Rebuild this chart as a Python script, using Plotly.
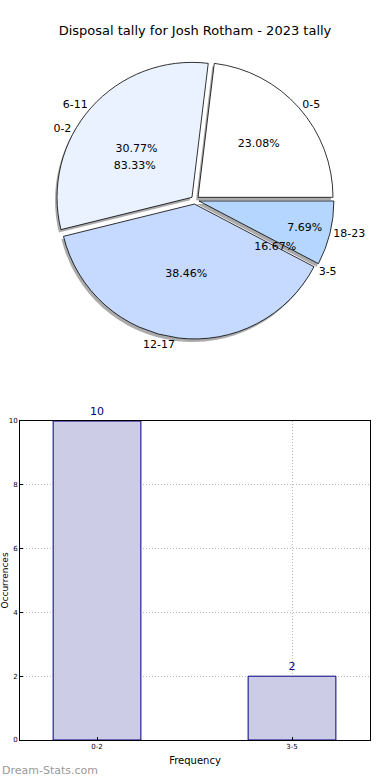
import plotly.graph_objects as go

# Data
pie_labels = ["0-5", "6-11", "12-17", "18-23"]
pie_values = [3, 4, 5, 1]
pie_colors = ["#ffffff", "#eaf1ff", "#c6d9ff", "#b5d6ff"]

freq_labels = ["0-2", "3-5"]
freq_values = [10, 2]

title_text = "Disposal tally for Josh Rotham - 2023 tally"

W, H = 390, 780
FONT = "DejaVu Sans"

def py(px):
    return 1 - px / H

def px_x(px):
    return px / W

def start_at_east(values):
    # matplotlib style: first wedge begins at 3 o'clock, going counterclockwise
    return 90 - 360.0 * values[0] / sum(values)

rot_main = start_at_east(pie_values)
rot_freq = start_at_east(freq_values)

pie_dom = dict(x=[0, 1], y=[py(339), py(61)])
shadow_dom = dict(x=[0, px_x(386)], y=[py(342), py(64)])
pull = [0.03] * 4

fig = go.Figure()

# shadow
fig.add_trace(go.Pie(
    labels=pie_labels, values=pie_values, domain=shadow_dom, sort=False,
    direction="counterclockwise", rotation=rot_main, pull=pull,
    marker=dict(colors=["#888888"] * 4, line=dict(color="#888888", width=0)),
    textinfo="label", hoverinfo="skip", showlegend=False, opacity=0.7, automargin=False,
    textposition="outside", outsidetextfont=dict(family=FONT, size=11, color="rgba(0,0,0,0)"),
))

# main pie with percents inside
fig.add_trace(go.Pie(
    labels=pie_labels, values=pie_values, domain=pie_dom, sort=False,
    direction="counterclockwise", rotation=rot_main, pull=pull,
    marker=dict(colors=pie_colors, line=dict(color="#000000", width=0.8)),
    textinfo="percent", texttemplate="%{percent:.2%}", textposition="inside",
    insidetextorientation="horizontal", automargin=False,
    textfont=dict(family=FONT, size=11, color="#000000"),
    showlegend=False,
))

# main pie labels outside
fig.add_trace(go.Pie(
    labels=pie_labels, values=pie_values, domain=pie_dom, sort=False,
    direction="counterclockwise", rotation=rot_main, pull=pull,
    marker=dict(colors=["rgba(0,0,0,0)"] * 4, line=dict(width=0)),
    textinfo="label", textposition="outside", automargin=False,
    outsidetextfont=dict(family=FONT, size=11, color="#000000"),
    showlegend=False, hoverinfo="skip",
))

# second pie (frequency) percents and labels
fig.add_trace(go.Pie(
    labels=freq_labels, values=freq_values, domain=pie_dom, sort=False,
    direction="counterclockwise", rotation=rot_freq,
    marker=dict(colors=["rgba(0,0,0,0)"] * 2, line=dict(width=0)),
    textinfo="percent", texttemplate="%{percent:.2%}", textposition="inside",
    insidetextorientation="horizontal", automargin=False,
    textfont=dict(family=FONT, size=11, color="#000000"),
    showlegend=False, hoverinfo="skip",
))
fig.add_trace(go.Pie(
    labels=freq_labels, values=freq_values, domain=pie_dom, sort=False,
    direction="counterclockwise", rotation=rot_freq,
    marker=dict(colors=["rgba(0,0,0,0)"] * 2, line=dict(width=0)),
    textinfo="label", textposition="outside", automargin=False,
    outsidetextfont=dict(family=FONT, size=11, color="#000000"),
    showlegend=False, hoverinfo="skip",
))

# bar chart
fig.add_trace(go.Bar(
    x=freq_labels, y=freq_values, width=0.45,
    marker=dict(color="#ccccE6", line=dict(color="#000080", width=1)),
    text=[str(v) for v in freq_values], textposition="outside",
    textfont=dict(family=FONT, size=11, color="#000080"),
    cliponaxis=False, showlegend=False,
))

GRID = dict(showgrid=True, gridcolor="#b8b8b8", griddash="1px,2px", gridwidth=1)

fig.update_layout(
    width=W, height=H, showlegend=False,
    margin=dict(l=0, r=0, t=0, b=0, autoexpand=False),
    paper_bgcolor="white", plot_bgcolor="white",
    font=dict(family=FONT, color="#000000"),
    title=dict(text=title_text, x=0.5, xanchor="center", y=py(30), yanchor="middle",
               font=dict(family=FONT, size=13, color="#000000")),
    xaxis=dict(domain=[px_x(20), px_x(370)], range=[-0.395, 1.4], **GRID,
               showline=True, linecolor="#000000", linewidth=1, mirror=True,
               ticks="inside", ticklen=3, tickcolor="#000000",
               tickfont=dict(family=FONT, size=7), automargin=False,
               title=dict(text="Frequency", font=dict(family=FONT, size=10), standoff=6),
               zeroline=False, anchor="y"),
    yaxis=dict(domain=[py(740), py(421)], range=[0, 10], dtick=2, **GRID,
               showline=True, linecolor="#000000", linewidth=1, mirror=True,
               ticks="inside", ticklen=3, tickcolor="#000000",
               tickfont=dict(family=FONT, size=7), automargin=False,
               title=dict(text="Occurrences", font=dict(family=FONT, size=9), standoff=20),
               zeroline=False, anchor="x"),
    annotations=[
        dict(text="Dream-Stats.com", x=0, y=py(770), xref="paper", yref="paper",
             xanchor="left", yanchor="middle", showarrow=False,
             font=dict(family=FONT, size=11, color="#999999")),
    ],
)

fig.write_html("out.html", config={"displayModeBar": False},
               post_script="document.body.style.margin='0';")
